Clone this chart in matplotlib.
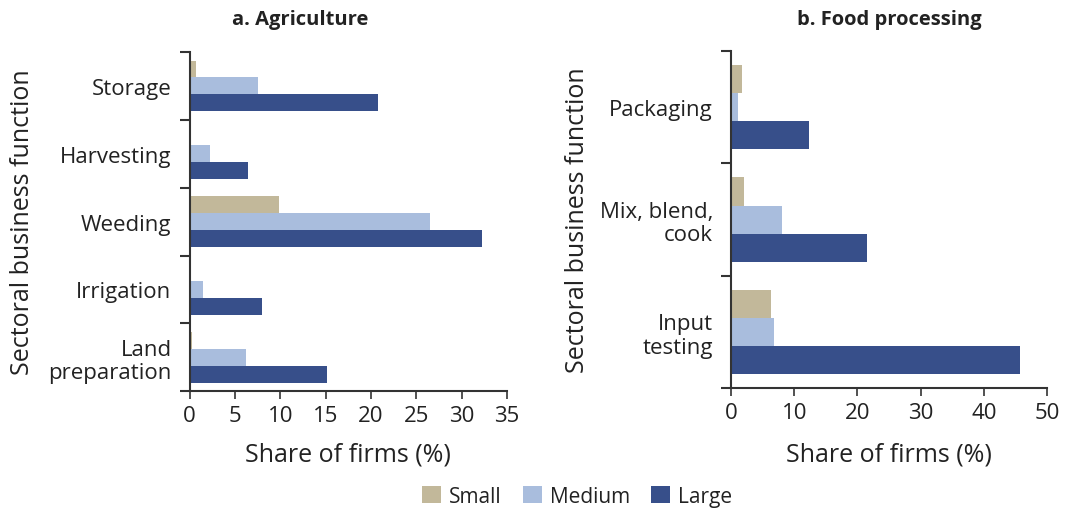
import matplotlib.pyplot as plt
import numpy as np

plt.rcParams['font.family'] = ['Open Sans', 'DejaVu Sans']

# datos
sizes = ["Small", "Medium", "Large"]
colores = ["#C2B89A", "#A9BDDD", "#374F8A"]

agri_cats = ["Storage", "Harvesting", "Weeding", "Irrigation", "Land\npreparation"]
agri_small = [0.7, 0.0, 9.9, 0.15, 0.3]
agri_medium = [7.5, 2.3, 26.5, 1.5, 6.2]
agri_large = [20.8, 6.4, 32.3, 8.0, 15.2]

food_cats = ["Packaging", "Mix, blend,\ncook", "Input\ntesting"]
food_small = [1.7, 2.0, 6.4]
food_medium = [1.05, 8.0, 6.8]
food_large = [12.3, 21.5, 45.7]

fig = plt.figure(figsize=(10.65, 5.1), dpi=100)
ax1 = fig.add_axes([0.178, 0.231, 0.298, 0.665])
ax2 = fig.add_axes([0.6864, 0.237, 0.2967, 0.661])


def dibujar(ax, cats, series, xmax, xstep, ylab_x, xlab_y):
    n = len(cats)
    y = np.arange(n)
    h = 0.25
    for i, (vals, col, lab) in enumerate(zip(series, colores, sizes)):
        ax.barh(y + (i - 1) * h, vals, height=h, color=col, label=lab)
    ax.set_ylim(n - 0.5, -0.5)
    ax.set_xlim(0, xmax)
    ax.set_xticks(np.arange(0, xmax + 0.1, xstep))
    ax.set_yticks(y)
    ax.set_yticklabels(cats, ha='right', multialignment='right', linespacing=1.15)
    ax.set_yticks(np.arange(n + 1) - 0.5, minor=True)
    ax.tick_params(axis='y', which='major', length=0, pad=13, labelsize=16, colors='#222222')
    ax.tick_params(axis='y', which='minor', length=7, width=1.5, color='#333333')
    ax.tick_params(axis='x', length=6, width=1.2, color='#333333', labelsize=16,
                   labelcolor='#222222', pad=4)
    for s in ['top', 'right']:
        ax.spines[s].set_visible(False)
    for s in ['left', 'bottom']:
        ax.spines[s].set_linewidth(1.5)
        ax.spines[s].set_color('#333333')
    ax.set_xlabel("Share of firms (%)", fontsize=18, color='#222222', va='center')
    ax.set_ylabel("Sectoral business function", fontsize=18, color='#222222',
                  va='center', ha='center')
    ax.xaxis.set_label_coords(0.5, xlab_y)
    ax.yaxis.set_label_coords(ylab_x, 0.5)


dibujar(ax1, agri_cats, [agri_small, agri_medium, agri_large], 35, 5, -0.527, -0.186)
dibujar(ax2, food_cats, [food_small, food_medium, food_large], 50, 10, -0.487, -0.196)

fig.text(0.282, 0.960, "a. Agriculture", ha='center', va='center', fontsize=14.5,
         fontweight='bold', color='#222222')
fig.text(0.835, 0.960, "b. Food processing", ha='center', va='center', fontsize=14.5,
         fontweight='bold', color='#222222')

handles, labels = ax1.get_legend_handles_labels()
fig.legend(handles, labels, loc='center', bbox_to_anchor=(0.542, 0.025), ncol=3,
           frameon=False, fontsize=15, handlelength=0.9, handleheight=0.9,
           handletextpad=0.4, columnspacing=1.0, labelcolor='#222222')

fig.savefig("out.png", dpi=100)
